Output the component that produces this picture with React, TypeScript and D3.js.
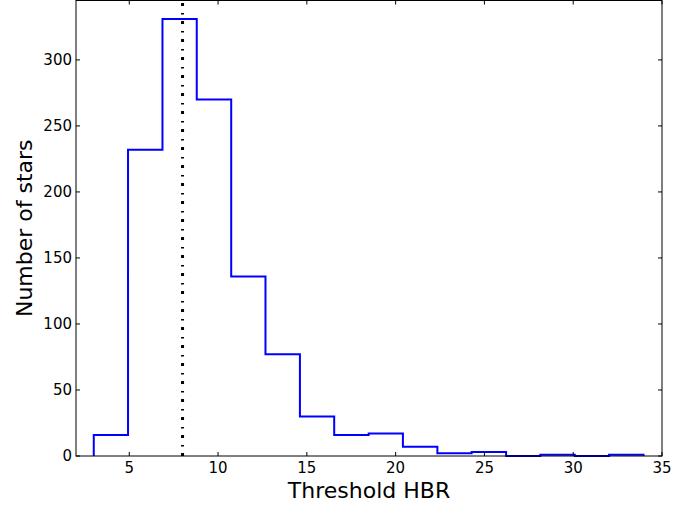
import React from "react";
import * as d3 from "d3";

const binEdges = [3.0, 4.93, 6.87, 8.8, 10.74, 12.67, 14.61, 16.54, 18.48, 20.41, 22.35, 24.28, 26.22, 28.15, 30.09, 32.02, 33.96];
const counts = [16, 232, 331, 270, 136, 77, 30, 16, 17, 7, 2, 3, 0, 1, 0, 1];
const xTicks = [5, 10, 15, 20, 25, 30, 35];
const yTicks = [0, 50, 100, 150, 200, 250, 300];
const thresholdLine = 8;
const xLabel = "Threshold HBR";
const yLabel = "Number of stars";

const W = 700, H = 508;
const left = 76, right = 662, top = 0.5, bottom = 456;

export default function App() {
  const x = d3.scaleLinear().domain([2, 35]).range([left, right]);
  const y = d3.scaleLinear().domain([0, 345]).range([bottom, top]);

  const pts: [number, number][] = [];
  pts.push([x(binEdges[0]), y(0)]);
  counts.forEach((c, i) => {
    pts.push([x(binEdges[i]), y(c)]);
    pts.push([x(binEdges[i + 1]), y(c)]);
  });
  pts.push([x(binEdges[binEdges.length - 1]), y(0)]);
  const line = d3.line();

  const font = "DejaVu Sans, sans-serif";
  return (
    <div style={{ position: "absolute", left: 0, top: 0 }}>
      <svg width={W} height={H} style={{ display: "block", background: "#fff" }}>
        <path d={line(pts) || ""} fill="none" stroke="#0000ff" strokeWidth={2} strokeLinejoin="miter" />
        <line x1={x(thresholdLine)} x2={x(thresholdLine)} y1={bottom} y2={top} stroke="#000" strokeWidth={3} strokeDasharray="3,6.5,1.5,7" />
        <rect x={left} y={top} width={right - left} height={bottom - top} fill="none" stroke="#000" strokeWidth={1} />
        {xTicks.map((t) => (
          <g key={"x" + t}>
            <line x1={x(t)} x2={x(t)} y1={bottom} y2={bottom - 4} stroke="#000" />
            <line x1={x(t)} x2={x(t)} y1={top} y2={top + 4} stroke="#000" />
            <text x={x(t)} y={bottom + 17} textAnchor="middle" fontFamily={font} fontSize={15}>{t}</text>
          </g>
        ))}
        {yTicks.map((t) => (
          <g key={"y" + t}>
            <line x1={left} x2={left + 4} y1={y(t)} y2={y(t)} stroke="#000" />
            <line x1={right} x2={right - 4} y1={y(t)} y2={y(t)} stroke="#000" />
            <text x={left - 4} y={y(t)} dy="0.36em" textAnchor="end" fontFamily={font} fontSize={15}>{t}</text>
          </g>
        ))}
        <text x={(left + right) / 2} y={498} textAnchor="middle" fontFamily={font} fontSize={22}>{xLabel}</text>
        <text transform={`translate(32,${(top + bottom) / 2}) rotate(-90)`} textAnchor="middle" fontFamily={font} fontSize={22}>{yLabel}</text>
      </svg>
    </div>
  );
}
